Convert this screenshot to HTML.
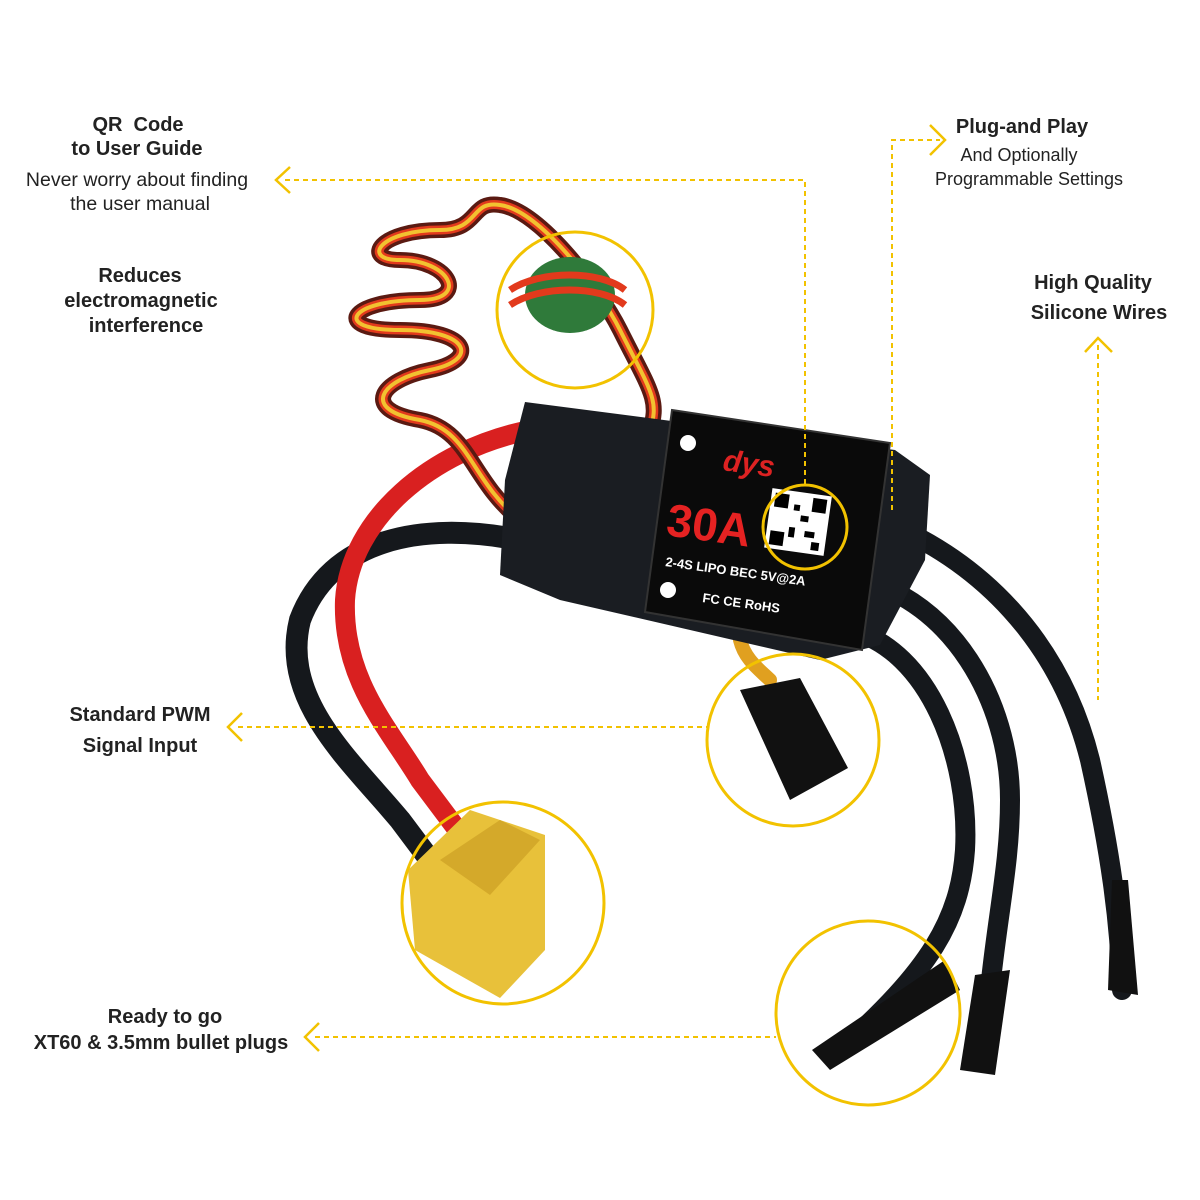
<!DOCTYPE html>
<html><head><meta charset="utf-8"><style>
html,body{margin:0;padding:0;background:#fff;}
svg{display:block;}
text{font-family:"Liberation Sans",Arial,sans-serif;fill:#222;}
.b{font-weight:bold;font-size:20px;}
.r{font-size:19.5px;}
</style></head><body>
<svg width="1200" height="1200" viewBox="0 0 1200 1200" xmlns="http://www.w3.org/2000/svg">
<rect width="1200" height="1200" fill="#fff"/>
<g fill="none" stroke-linecap="round">
<path d="M880,520 C980,560 1060,640 1090,760 C1110,850 1120,920 1122,990" stroke="#15181c" stroke-width="20"/>
<path d="M860,580 C950,600 1010,700 1010,800 C1010,880 990,940 985,1060" stroke="#15181c" stroke-width="20"/>
<path d="M850,630 C930,650 970,760 965,850 C960,920 930,970 840,1050" stroke="#15181c" stroke-width="20"/>
<path d="M520,540 C420,520 330,540 300,620 C280,700 350,760 400,820 L430,860" stroke="#15181c" stroke-width="22"/>
<path d="M530,430 C430,450 350,520 345,600 C342,680 390,730 420,780 L465,840" stroke="#d92020" stroke-width="20"/>
<path d="M520,520 C470,480 470,430 420,420 C360,410 380,380 430,370 C480,360 470,330 400,330 C330,330 350,300 420,300 C470,300 450,260 400,260 C360,260 380,230 440,230 C480,230 470,200 500,205 C540,210 600,290 620,330 C650,390 660,400 650,430" stroke="#5a1a12" stroke-width="16"/>
<path d="M520,520 C470,480 470,430 420,420 C360,410 380,380 430,370 C480,360 470,330 400,330 C330,330 350,300 420,300 C470,300 450,260 400,260 C360,260 380,230 440,230 C480,230 470,200 500,205 C540,210 600,290 620,330 C650,390 660,400 650,430" stroke="#e23a1c" stroke-width="9"/>
<path d="M520,520 C470,480 470,430 420,420 C360,410 380,380 430,370 C480,360 470,330 400,330 C330,330 350,300 420,300 C470,300 450,260 400,260 C360,260 380,230 440,230 C480,230 470,200 500,205 C540,210 600,290 620,330 C650,390 660,400 650,430" stroke="#f2c230" stroke-width="4"/>
<path d="M740,640 C745,660 760,670 770,680" stroke="#e0a020" stroke-width="14"/>
</g>
<ellipse cx="570" cy="295" rx="45" ry="38" fill="#2f7a3a"/>
<path d="M510,290 C540,270 600,270 625,290 M510,305 C540,285 600,285 625,305" stroke="#e23a1c" stroke-width="7" fill="none"/>
<path d="M525,402 L895,450 L930,475 L925,560 L880,645 L820,660 L560,600 L500,575 L505,480 Z" fill="#1a1d22"/>
<path d="M672,410 L890,443 L862,650 L645,612 Z" fill="#0a0a0a" stroke="#333" stroke-width="2"/>
<text x="722" y="470" transform="rotate(8 722 470)" font-size="30" font-weight="bold" style="fill:#d22;font-style:italic">dys</text>
<text x="665" y="535" transform="rotate(8 665 535)" font-size="46" font-weight="bold" style="fill:#e52222">30A</text>
<rect x="768" y="492" width="60" height="60" fill="#fff" transform="rotate(8 798 522)"/>
<g transform="rotate(8 798 522)" fill="#000">
<rect x="772" y="496" width="14" height="14"/><rect x="810" y="496" width="14" height="14"/><rect x="772" y="534" width="14" height="14"/>
<rect x="792" y="505" width="6" height="6"/><rect x="800" y="515" width="8" height="6"/><rect x="790" y="528" width="6" height="10"/><rect x="806" y="530" width="10" height="6"/><rect x="814" y="540" width="8" height="8"/></g>
<text x="665" y="566" transform="rotate(8 665 566)" font-size="13" font-weight="bold" style="fill:#fff">2-4S LIPO BEC 5V@2A</text>
<text x="702" y="602" transform="rotate(8 702 602)" font-size="13" font-weight="bold" style="fill:#fff">FC  CE RoHS</text>
<circle cx="688" cy="443" r="8" fill="#fff"/><circle cx="668" cy="590" r="8" fill="#fff"/>
<path d="M740,690 L800,678 L848,768 L790,800 Z" fill="#111"/>
<path d="M408,870 L470,810 L545,835 L545,950 L500,998 L415,950 Z" fill="#e8c13a"/>
<path d="M440,860 L500,820 L540,840 L490,895 Z" fill="#d4a92a"/>
<path d="M812,1050 L945,960 L960,990 L830,1070 Z" fill="#111"/>
<path d="M960,1070 L975,975 L1010,970 L995,1075 Z" fill="#111"/>
<path d="M1108,990 L1112,880 L1128,880 L1138,995 Z" fill="#111"/>
<g stroke="#f2c200" stroke-width="2" fill="none" stroke-dasharray="5,4">
<path d="M285,180 L805,180 L805,488"/>
<path d="M892,510 L892,140 L940,140"/>
<path d="M1098,345 L1098,700"/>
<path d="M238,727 L708,727"/>
<path d="M315,1037 L776,1037"/>
</g>
<g stroke="#f2c200" stroke-width="2.5" fill="none">
<path d="M290,167 L276,180 L290,193"/>
<path d="M930,125 L945,140 L930,155"/>
<path d="M1085,352 L1098,338 L1112,352"/>
<path d="M242,713 L228,727 L242,741"/>
<path d="M319,1023 L305,1037 L319,1051"/>
</g>
<g stroke="#f2c200" stroke-width="3" fill="none">
<circle cx="575" cy="310" r="78"/>
<circle cx="805" cy="527" r="42"/>
<circle cx="793" cy="740" r="86"/>
<circle cx="503" cy="903" r="101"/>
<circle cx="868" cy="1013" r="92"/>
</g>
<text class="b" x="138" y="131" text-anchor="middle">QR&#160; Code</text>
<text class="b" x="137" y="155" text-anchor="middle">to User Guide</text>
<text class="r" x="137" y="186" text-anchor="middle">Never worry about finding</text>
<text class="r" x="140" y="210" text-anchor="middle">the user manual</text>
<text class="b" x="140" y="282" text-anchor="middle">Reduces</text>
<text class="b" x="141" y="307" text-anchor="middle">electromagnetic</text>
<text class="b" x="146" y="332" text-anchor="middle">interference</text>
<text class="b" x="1022" y="133" text-anchor="middle">Plug-and Play</text>
<text class="r" x="1019" y="161" text-anchor="middle" style="font-size:18px">And Optionally</text>
<text class="r" x="1029" y="185" text-anchor="middle" style="font-size:18px">Programmable Settings</text>
<text class="b" x="1093" y="289" text-anchor="middle">High Quality</text>
<text class="b" x="1099" y="319" text-anchor="middle">Silicone Wires</text>
<text class="b" x="140" y="721" text-anchor="middle">Standard PWM</text>
<text class="b" x="140" y="752" text-anchor="middle">Signal Input</text>
<text class="b" x="165" y="1023" text-anchor="middle">Ready to go</text>
<text class="b" x="161" y="1049" text-anchor="middle">XT60 &amp; 3.5mm bullet plugs</text>
</svg>
</body></html>
